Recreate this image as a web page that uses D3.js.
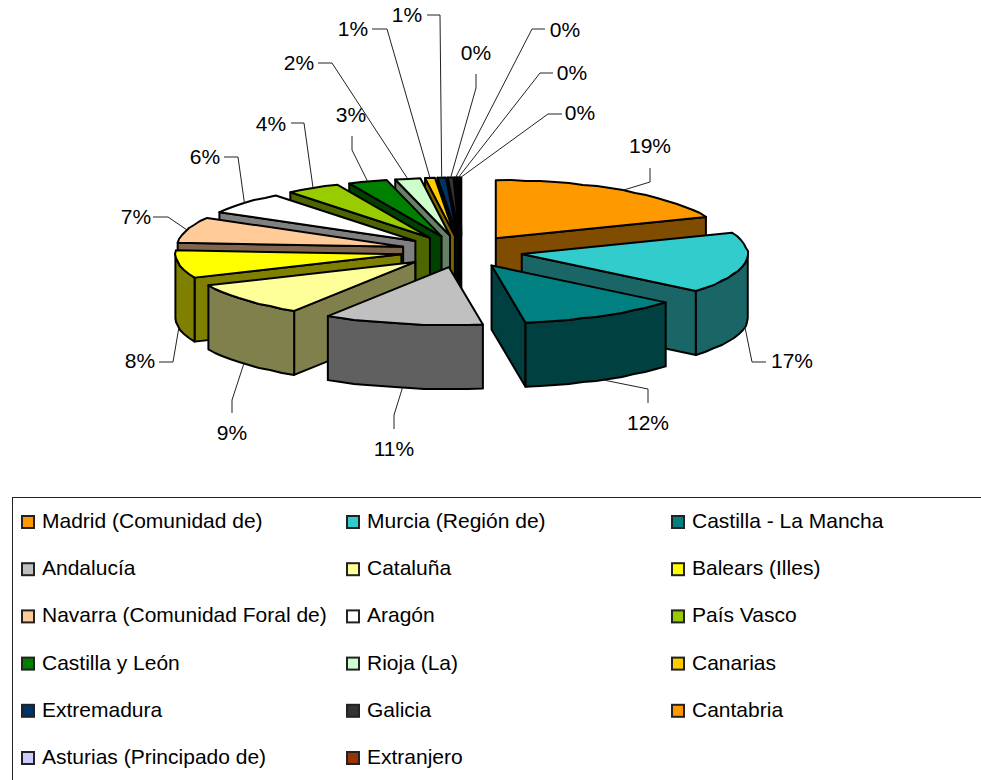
<!DOCTYPE html>
<html>
<head>
<meta charset="utf-8">
<script src="https://cdn.jsdelivr.net/npm/d3@7"></script>
<style>
  html, body { margin: 0; padding: 0; background: #fff; overflow: hidden; }
  text { font-family: "Liberation Sans", Arial, sans-serif; font-size: 21px; fill: #000; }
</style>
</head>
<body>
<div id="chart"></div>
<script>
// DATA
var categories = [ 'Madrid (Comunidad de)', 'Murcia (Región de)', 'Castilla - La Mancha',
  'Andalucía', 'Cataluña', 'Balears (Illes)',
  'Navarra (Comunidad Foral de)', 'Aragón', 'País Vasco',
  'Castilla y León', 'Rioja (La)', 'Canarias',
  'Extremadura', 'Galicia', 'Cantabria',
  'Asturias (Principado de)', 'Extranjero' ];
var shares = [ 19.0, 17.0, 11.6, 11.4, 9.4, 7.7, 7.2, 6.1, 3.9, 2.8, 1.8, 0.7, 0.6, 0.4, 0.15, 0.15, 0.1 ];
var shareLabels = [ '19%', '17%', '12%', '11%', '9%', '8%', '7%', '6%', '4%', '3%', '2%', '1%', '1%', '0%', '0%', '0%', '0%' ];

var sliceColors = [ '#FF9900', '#33CCCC', '#008080', '#C0C0C0', '#FFFF99', '#FFFF00',
  '#FFCC99', '#FFFFFF', '#99CC00', '#008000', '#CCFFCC', '#FFCC00',
  '#003366', '#333333', '#FF9900', '#CCCCFF', '#993300' ];

// hand placed labels, same order as categories: elbow x/y, then text centre x/y
var labelLayout = [
  [ 650, 182, 650, 168, 650, 145 ],
  [ 752, 362, 766, 362, 792, 360 ],
  [ 648, 389, 648, 403, 648, 422 ],
  [ 394, 415, 394, 429, 394, 448 ],
  [ 232, 400, 232, 413, 232, 432 ],
  [ 173, 362, 159, 362, 140, 360 ],
  [ 168, 217, 153, 217, 136, 216 ],
  [ 238, 157, 224, 157, 205, 156 ],
  [ 304, 123, 291, 123, 271, 123 ],
  [ 352, 150, 352, 136, 351, 114 ],
  [ 332, 63, 318, 63, 299, 62 ],
  [ 387, 29, 372, 29, 353, 28 ],
  [ 440, 15, 427, 15, 407, 14 ],
  [ 476, 88, 476, 74, 476, 52 ],
  [ 532, 29, 545, 29, 565, 29 ],
  [ 540, 73, 553, 73, 572, 72 ],
  [ 548, 114, 562, 114, 580, 112 ]
];

var width = 981, height = 780;
var cx = 461.5, cy = 251.5;
var radiusX = 226, radiusY = 58;
var explodeX = 61, explodeY = 16;
var depth = 64;
var edgeWidth = 2;
var arcStep = Math.PI / 45;

var svg = d3.select('#chart').append('svg')
  .attr('width', width)
  .attr('height', height);

var slices = d3.pie().sort(null).value(function( d ) { return d; })( shares );

function midAngle( s ) { return ( s.startAngle + s.endAngle ) / 2; }

function apex( s ) {
  var m = midAngle( s );
  return [ cx + explodeX * Math.sin( m ), cy - explodeY * Math.cos( m ) ];
}

function rimPoint( s, angle, drop ) {
  var a = apex( s );
  return [ a[0] + radiusX * Math.sin( angle ), a[1] - radiusY * Math.cos( angle ) + drop ];
}

// rim sampled coarsely and snapped a bit, the original has the same rough outline
function rimPoints( s, from, to, drop ) {
  var pts = [], n = Math.max( 1, Math.ceil( ( to - from ) / arcStep ) );
  for ( var i = 0; i <= n; i++ ) {
    var p = rimPoint( s, from + ( to - from ) * i / n, drop );
    if ( i > 0 && i < n ) p = [ Math.round( p[0] ), Math.round( p[1] ) ];
    pts.push( p );
  }
  return pts;
}

function halfShade( color ) {
  var c = d3.rgb( color );
  return d3.rgb( c.r / 2, c.g / 2, c.b / 2 ).formatHex();
}

function drawPoly( g, pts, fill ) {
  g.append( 'path' )
    .attr( 'd', d3.line()( pts ) + 'Z' )
    .attr( 'fill', fill )
    .attr( 'stroke', '#000' )
    .attr( 'stroke-width', edgeWidth )
    .attr( 'stroke-linejoin', 'round' );
}

function sideFace( s, angle ) {
  var a = apex( s ), r = rimPoint( s, angle, 0 );
  return [ a, r, [ r[0], r[1] + depth ], [ a[0], a[1] + depth ] ];
}

// back slices first
var order = d3.range( slices.length ).sort( function( a, b ) {
  return Math.cos( midAngle( slices[ b ] ) ) - Math.cos( midAngle( slices[ a ] ) );
} );

order.forEach( function( i ) {
  var s = slices[ i ];
  var g = svg.append( 'g' ).attr( 'class', 'slice' );
  var shade = halfShade( sliceColors[ i ] );

  if ( Math.sin( s.startAngle ) < -1e-6 ) drawPoly( g, sideFace( s, s.startAngle ), shade );
  if ( Math.sin( s.endAngle ) > 1e-6 ) drawPoly( g, sideFace( s, s.endAngle ), shade );

  var from = Math.max( s.startAngle, Math.PI / 2 ), to = Math.min( s.endAngle, 3 * Math.PI / 2 );
  if ( to > from ) {
    var top = rimPoints( s, from, to, 0 );
    var bottom = rimPoints( s, from, to, depth ).reverse();
    drawPoly( g, top.concat( bottom ), shade );
  }

  drawPoly( g, [ apex( s ) ].concat( rimPoints( s, s.startAngle, s.endAngle, 0 ) ), sliceColors[ i ] );
} );

// leader lines and percent labels
slices.forEach( function( s, i ) {
  var m = midAngle( s ), lay = labelLayout[ i ];
  var start = rimPoint( s, m, Math.cos( m ) < 0 ? depth : 0 );
  svg.append( 'path' )
    .attr( 'd', d3.line()( [ start, [ lay[0], lay[1] ], [ lay[2], lay[3] ] ] ) )
    .attr( 'fill', 'none' )
    .attr( 'stroke', '#222' )
    .attr( 'stroke-width', 1 );
  svg.append( 'text' )
    .attr( 'x', lay[4] )
    .attr( 'y', lay[5] )
    .attr( 'dy', '0.36em' )
    .attr( 'text-anchor', 'middle' )
    .text( shareLabels[ i ] );
} );

// LEGEND
var legendCols = d3.scalePoint().domain( [ 0, 1, 2 ] ).range( [ 22, 672 ] );
var legendRows = d3.scalePoint().domain( d3.range( 6 ) ).range( [ 521, 757 ] );

svg.append( 'rect' )
  .attr( 'x', 12.5 )
  .attr( 'y', 497.5 )
  .attr( 'width', 1000 )
  .attr( 'height', 400 )
  .attr( 'fill', 'none' )
  .attr( 'stroke', '#222' )
  .attr( 'stroke-width', 1 );

var legend = svg.selectAll( '.legend-item' )
  .data( categories )
  .enter()
  .append( 'g' )
  .attr( 'class', 'legend-item' )
  .attr( 'transform', function( d, i ) {
    return 'translate(' + legendCols( i % 3 ) + ',' + legendRows( Math.floor( i / 3 ) ) + ')';
  } );

legend.append( 'rect' )
  .attr( 'x', 0 )
  .attr( 'y', -5 )
  .attr( 'width', 12 )
  .attr( 'height', 12 )
  .attr( 'fill', function( d, i ) { return sliceColors[ i ]; } )
  .attr( 'stroke', '#222' )
  .attr( 'stroke-width', 2 );

legend.append( 'text' )
  .attr( 'x', 20 )
  .attr( 'y', 0 )
  .attr( 'dy', '0.33em' )
  .text( function( d ) { return d; } );
</script>
</body>
</html>
